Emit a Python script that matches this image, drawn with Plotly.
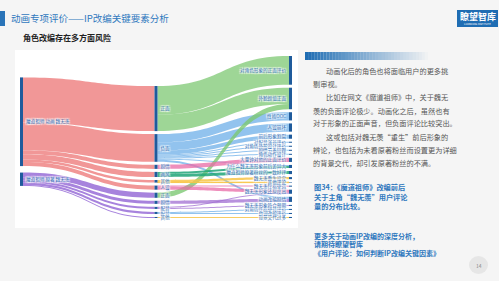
import plotly.graph_objects as go

W, H = 499, 281

# ---------------- data ----------------
node_labels = [
    "魔道祖师 动画 魏无羡", "魔道祖师 原著 魏无羡",
    # middle
    "正面", "负面", "正面", "剧情", "剧情", "人设", "画风", "配音", "配音", "其他", "其他",
    # right
    "对角色形象的正面评价", "外貌颜值正面", "性格OOC", "人设崩坏", "动画改编剧情", "前后形象割裂",
    "大量钟对他的正面评价", "魏无羡形象还原度高", "魔道祖师原著粉丝的一致好评",
    "为什么魏无羡形象前后差异大", "魏无羡重生设定", "对配音演员评价", "对角色性格塑造评价",
    "对角色外形设计评价", "魏无羡形象符合预期", "剧情节奏问题", "台词改编评价",
    "背景交代过多", "角色动作设计", "魏无羡性格塑造", "其他评论",
]
link_source = [0, 0, 0, 0, 0, 0, 1, 1, 1, 1, 1,
               2, 2, 3, 3, 3, 3, 3, 3, 3, 3, 3, 4, 5, 6, 7, 7, 8, 8, 9, 9, 10, 10, 11, 11, 12]
link_target = [2, 3, 5, 7, 8, 11, 4, 6, 9, 10, 12,
               13, 14, 15, 16, 17, 18, 22, 24, 26, 28, 31, 14, 19, 17, 20, 32, 21, 22, 25, 29, 20, 27, 23, 33, 30]
link_value = [44, 27, 4, 4, 5, 2.5, 5, 3, 2, 2, 1,
              28, 16, 8, 8, 2, 4, 1, 1, 1, 1, 1, 5, 4, 3, 3, 1, 3, 2, 1, 1, 1, 1, 2, 0.5, 1]

para_lines = [
    "动画化后的角色也将面临用户的更多挑",
    "剔审视。",
    "比如在网文《魔道祖师》中，关于魏无",
    "羡的负面评论极少。动画化之后，虽然也有",
    "对于形象的正面声音，但负面评论比较突出。",
    "这或包括对魏无羡“重生”前后形象的",
    "辨论，也包括为未看原著粉丝而设置更为详细",
    "的背景交代，却引发原著粉丝的不满。",
]
para_indent = [True, False, True, False, False, True, False, False]
caption_lines = ["图34：《魔道祖师》改编前后", "关于主角“魏无羡”用户评论", "量的分布比较。"]
more_lines = ["更多关于动画IP改编的深度分析，", "请期待瞭望智库", "《用户评论：如何判断IP改编关键因素》"]
title = "动画专项评价——IP改编关键要素分析"
subtitle = "角色改编存在多方面风险"
page_no = "14"

# ---------------- colours ----------------
PINK = "rgba(238,128,128,0.82)"
PURP = "rgba(145,100,212,0.80)"
mid_colors = {
    2: "rgba(125,200,115,0.75)", 3: "rgba(110,175,232,0.75)", 4: "rgba(125,200,115,0.80)",
    5: "rgba(232,105,165,0.75)", 6: "rgba(160,110,210,0.75)", 7: "rgba(232,105,165,0.75)",
    8: "rgba(30,165,120,0.85)", 9: "rgba(110,175,232,0.75)", 10: "rgba(160,110,210,0.75)",
    11: "rgba(248,196,70,0.85)", 12: "rgba(248,196,70,0.85)",
}
link_colors = []
for s in link_source:
    if s == 0:
        link_colors.append(PINK)
    elif s == 1:
        link_colors.append(PURP)
    else:
        link_colors.append(mid_colors[s])

FONT = "Noto Sans CJK SC"
BLUE = "#2f78be"

fig = go.Figure(go.Sankey(
    domain=dict(x=[20 / W, 292 / W], y=[1 - 218 / H, 1 - 56 / H]),
    node=dict(label=node_labels, pad=3, thickness=3, color="#1f5b9c",
              line=dict(width=0)),
    link=dict(source=link_source, target=link_target, value=link_value,
              color=link_colors),
    textfont=dict(family=FONT, size=4.6, color="#2e6db4"),
    hoverinfo="none",
))

shapes = []
annotations = []
# white panel
shapes.append(dict(type="rect", xref="paper", yref="paper", layer="below",
                   x0=15 / W, x1=298 / W, y0=1 - 228 / H, y1=1 - 50 / H,
                   fillcolor="white", line=dict(width=0)))
# title bar
shapes.append(dict(type="rect", xref="paper", yref="paper",
                   x0=0, x1=5 / W, y0=1 - 26 / H, y1=1 - 11 / H,
                   fillcolor="#2a74b8", line=dict(width=0)))
# logo box
shapes.append(dict(type="rect", xref="paper", yref="paper",
                   x0=457 / W, x1=498 / W, y0=1 - 27 / H, y1=1 - 10 / H,
                   fillcolor="#1f6db3", line=dict(width=0)))
# gradient bar
N = 40
gx0, gx1 = 305, 428
for i in range(N):
    a = 1 - i / N
    shapes.append(dict(type="rect", xref="paper", yref="paper",
                       x0=(gx0 + (gx1 - gx0) * i / N) / W,
                       x1=(gx0 + (gx1 - gx0) * (i + 1) / N) / W,
                       y0=1 - 60 / H, y1=1 - 52 / H,
                       fillcolor=f"rgba(31,109,179,{a:.3f})", line=dict(width=0)))
# page number circle
shapes.append(dict(type="circle", xref="paper", yref="paper",
                   x0=469 / W, x1=488 / W, y0=1 - 274 / H, y1=1 - 256 / H,
                   fillcolor="#e6e6e6", line=dict(width=0)))


def ann(text, x, y, size, color, bold=False, xanchor="left"):
    if bold:
        text = "<b>" + text + "</b>"
    annotations.append(dict(text=text, x=x / W, y=1 - y / H, xref="paper", yref="paper",
                            xanchor=xanchor, yanchor="middle", showarrow=False,
                            font=dict(family=FONT, size=size, color=color)))


ann(title, 9, 18, 9.5, BLUE)
ann(subtitle, 21, 37, 8, "#222222", bold=True)
ann("瞭望智库", 477.5, 16.5, 9, "white", bold=True, xanchor="center")
ann("LIAOWANG INSTITUTE", 477.5, 24.3, 2.6, "white", xanchor="center")

para_y = [70.7, 83.5, 97.5, 110.5, 123, 137, 149.5, 162.5]
for line, ind, y in zip(para_lines, para_indent, para_y):
    ann(line, 324 if ind else 311, y, 7.2, "#555555")

for line, y in zip(caption_lines, [186.5, 196.5, 206]):
    ann(line, 312, y, 7.2, BLUE, bold=True)
for line, y in zip(more_lines, [236, 244, 252.5]):
    ann(line, 312, y, 7, BLUE, bold=True)
ann(page_no, 478.5, 265, 5, "#888888", xanchor="center")

fig.update_layout(width=W, height=H, margin=dict(l=0, r=0, t=0, b=0),
                  paper_bgcolor="#f5f5f5", plot_bgcolor="#f5f5f5",
                  font=dict(family=FONT),
                  shapes=shapes, annotations=annotations, showlegend=False)
fig.write_html("out.html")
